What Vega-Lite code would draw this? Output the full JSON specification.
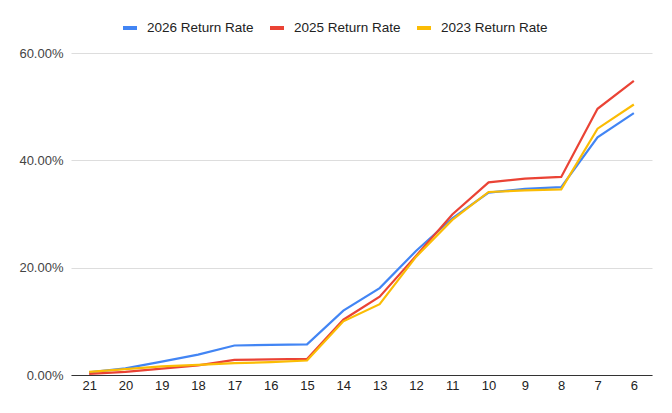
{
  "$schema": "https://vega.github.io/schema/vega-lite/v6.json",
  "description": "Return rate by step, three years",
  "width": 581,
  "height": 322,
  "autosize": "none",
  "padding": {"left": 71, "top": 53, "right": 20, "bottom": 38},
  "background": "white",
  "data": {
    "values": [
      {"step": 21, "series": "2026 Return Rate", "rate": 0.005},
      {"step": 20, "series": "2026 Return Rate", "rate": 0.0125},
      {"step": 19, "series": "2026 Return Rate", "rate": 0.025},
      {"step": 18, "series": "2026 Return Rate", "rate": 0.038},
      {"step": 17, "series": "2026 Return Rate", "rate": 0.055},
      {"step": 16, "series": "2026 Return Rate", "rate": 0.056},
      {"step": 15, "series": "2026 Return Rate", "rate": 0.057},
      {"step": 14, "series": "2026 Return Rate", "rate": 0.12},
      {"step": 13, "series": "2026 Return Rate", "rate": 0.162},
      {"step": 12, "series": "2026 Return Rate", "rate": 0.231},
      {"step": 11, "series": "2026 Return Rate", "rate": 0.292},
      {"step": 10, "series": "2026 Return Rate", "rate": 0.34},
      {"step": 9, "series": "2026 Return Rate", "rate": 0.347},
      {"step": 8, "series": "2026 Return Rate", "rate": 0.35},
      {"step": 7, "series": "2026 Return Rate", "rate": 0.443},
      {"step": 6, "series": "2026 Return Rate", "rate": 0.488},
      {"step": 21, "series": "2025 Return Rate", "rate": 0.002},
      {"step": 20, "series": "2025 Return Rate", "rate": 0.006},
      {"step": 19, "series": "2025 Return Rate", "rate": 0.012},
      {"step": 18, "series": "2025 Return Rate", "rate": 0.018},
      {"step": 17, "series": "2025 Return Rate", "rate": 0.028},
      {"step": 16, "series": "2025 Return Rate", "rate": 0.029},
      {"step": 15, "series": "2025 Return Rate", "rate": 0.03},
      {"step": 14, "series": "2025 Return Rate", "rate": 0.103},
      {"step": 13, "series": "2025 Return Rate", "rate": 0.146},
      {"step": 12, "series": "2025 Return Rate", "rate": 0.222},
      {"step": 11, "series": "2025 Return Rate", "rate": 0.299},
      {"step": 10, "series": "2025 Return Rate", "rate": 0.359},
      {"step": 9, "series": "2025 Return Rate", "rate": 0.366},
      {"step": 8, "series": "2025 Return Rate", "rate": 0.369},
      {"step": 7, "series": "2025 Return Rate", "rate": 0.496},
      {"step": 6, "series": "2025 Return Rate", "rate": 0.548},
      {"step": 21, "series": "2023 Return Rate", "rate": 0.006},
      {"step": 20, "series": "2023 Return Rate", "rate": 0.011},
      {"step": 19, "series": "2023 Return Rate", "rate": 0.016},
      {"step": 18, "series": "2023 Return Rate", "rate": 0.019},
      {"step": 17, "series": "2023 Return Rate", "rate": 0.022},
      {"step": 16, "series": "2023 Return Rate", "rate": 0.024},
      {"step": 15, "series": "2023 Return Rate", "rate": 0.027},
      {"step": 14, "series": "2023 Return Rate", "rate": 0.1},
      {"step": 13, "series": "2023 Return Rate", "rate": 0.132},
      {"step": 12, "series": "2023 Return Rate", "rate": 0.22},
      {"step": 11, "series": "2023 Return Rate", "rate": 0.289},
      {"step": 10, "series": "2023 Return Rate", "rate": 0.341},
      {"step": 9, "series": "2023 Return Rate", "rate": 0.344},
      {"step": 8, "series": "2023 Return Rate", "rate": 0.346},
      {"step": 7, "series": "2023 Return Rate", "rate": 0.459},
      {"step": 6, "series": "2023 Return Rate", "rate": 0.504}
    ]
  },
  "mark": {"type": "line", "strokeWidth": 2.2},
  "encoding": {
    "x": {
      "field": "step",
      "type": "ordinal",
      "sort": "descending",
      "scale": {"type": "point", "padding": 0.5},
      "axis": {
        "title": null,
        "labelAngle": 0,
        "labelFontSize": 13,
        "labelColor": "#222222",
        "labelPadding": 4,
        "ticks": false,
        "domainColor": "#333333",
        "domainWidth": 1,
        "grid": false
      }
    },
    "y": {
      "field": "rate",
      "type": "quantitative",
      "scale": {"domain": [0, 0.6], "nice": false},
      "axis": {
        "title": null,
        "format": ".2%",
        "values": [0, 0.2, 0.4, 0.6],
        "labelFontSize": 13,
        "labelColor": "#444444",
        "labelPadding": 8,
        "ticks": false,
        "domain": false,
        "gridColor": "#dddddd"
      }
    },
    "color": {
      "field": "series",
      "type": "nominal",
      "sort": ["2026 Return Rate", "2025 Return Rate", "2023 Return Rate"],
      "scale": {
        "domain": ["2026 Return Rate", "2025 Return Rate", "2023 Return Rate"],
        "range": ["#4285F4", "#EA4335", "#FBBC04"]
      },
      "legend": {
        "title": null,
        "orient": "none",
        "legendX": 50,
        "legendY": -34,
        "direction": "horizontal",
        "symbolType": "stroke",
        "symbolSize": 196,
        "symbolStrokeWidth": 4,
        "labelFontSize": 13.5,
        "labelColor": "#222222",
        "labelOffset": 8,
        "columnPadding": 8
      }
    },
    "order": {"field": "step", "type": "quantitative", "sort": "descending"}
  },
  "config": {
    "font": "Liberation Sans",
    "view": {"stroke": null},
    "legend": {"symbolOpacity": 1}
  }
}
